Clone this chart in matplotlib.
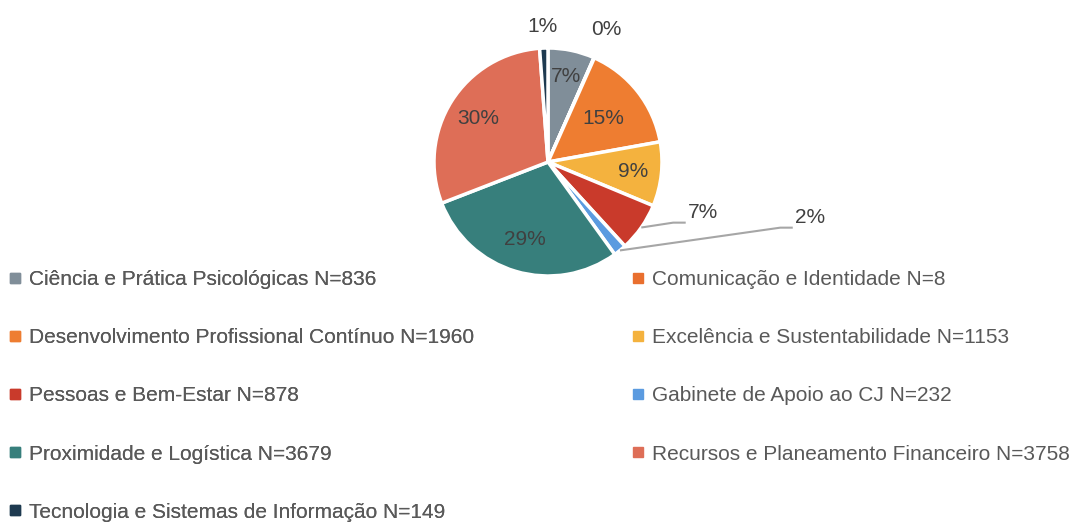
import numpy as np
import matplotlib.pyplot as plt
from matplotlib.lines import Line2D

plt.rcParams['font.family'] = ['Liberation Sans', 'DejaVu Sans']

# slices, clockwise from 12 o'clock
categories = [
    "Ciência e Prática Psicológicas",
    "Comunicação e Identidade",
    "Desenvolvimento Profissional Contínuo",
    "Excelência e Sustentabilidade",
    "Pessoas e Bem-Estar",
    "Gabinete de Apoio ao CJ",
    "Proximidade e Logística",
    "Recursos e Planeamento Financeiro",
    "Tecnologia e Sistemas de Informação",
]
counts = [836, 8, 1960, 1153, 878, 232, 3679, 3758, 149]
colors = ["#808E99", "#E96F2E", "#EE7D31", "#F4B23E", "#C93A2B",
          "#5B9BE0", "#377F7C", "#DE6E57", "#1E3A50"]

# where each percentage label sits (radius in pie units); None -> leader line
label_r = [0.77, 1.27, 0.62, 0.75, None, None, 0.71, 0.72, 1.19]
leader_text = {4: (1.228, -0.447), 5: (2.167, -0.491)}

W, H = 1076, 526
cx, cy, R = 548, 162, 114

fig = plt.figure(figsize=(W / 100, H / 100), dpi=100)
half = 1.2 * R
ax = fig.add_axes([(cx - half) / W, (H - cy - half) / H, 2 * half / W, 2 * half / H])

wedges, _ = ax.pie(counts, colors=colors, startangle=90, counterclock=False,
                   wedgeprops=dict(edgecolor="white", linewidth=2.5))
ax.set_xlim(-1.2, 1.2)
ax.set_ylim(-1.2, 1.2)
ax.set_aspect("equal")
ax.axis("off")

total = sum(counts)
pct_color = "#404040"
for i, w in enumerate(wedges):
    pct = f"{round(counts[i] / total * 100)}%"
    mid = np.deg2rad((w.theta1 + w.theta2) / 2)
    if label_r[i] is not None:
        r = label_r[i]
        ax.text(r * np.cos(mid), r * np.sin(mid), pct, ha="center", va="center",
                fontsize=15, color=pct_color)
    else:
        tx, ty = leader_text[i]
        x0, y0 = np.cos(mid), np.sin(mid)
        ly = ty - 0.085
        ax.plot([x0, tx - 0.13, tx - 0.02], [y0, ly, ly], color="#A6A6A6",
                lw=1.5, clip_on=False, solid_capstyle="butt")
        ax.text(tx, ty, pct, ha="left", va="center", fontsize=15, color=pct_color)

# legend: Excel fills row by row in two columns
handles = [Line2D([], [], marker="s", linestyle="", markersize=6.5,
                  markerfacecolor=c, markeredgecolor=c) for c in colors]
labels = [f"{c} N={n}" for c, n in zip(categories, counts)]

legend_kw = dict(frameon=False, fontsize=15, labelcolor="#595959",
                 handlelength=0.6, handletextpad=0.35, labelspacing=1.88,
                 borderpad=0, borderaxespad=0, loc="upper left")
left_idx = list(range(0, len(labels), 2))
right_idx = list(range(1, len(labels), 2))
leg1 = fig.legend([handles[i] for i in left_idx], [labels[i] for i in left_idx],
                  bbox_to_anchor=(9 / W, 1 - 270 / H), **legend_kw)
fig.legend([handles[i] for i in right_idx], [labels[i] for i in right_idx],
           bbox_to_anchor=(632 / W, 1 - 270 / H), **legend_kw)
fig.add_artist(leg1)

fig.savefig("out.png", dpi=100, facecolor="white")
